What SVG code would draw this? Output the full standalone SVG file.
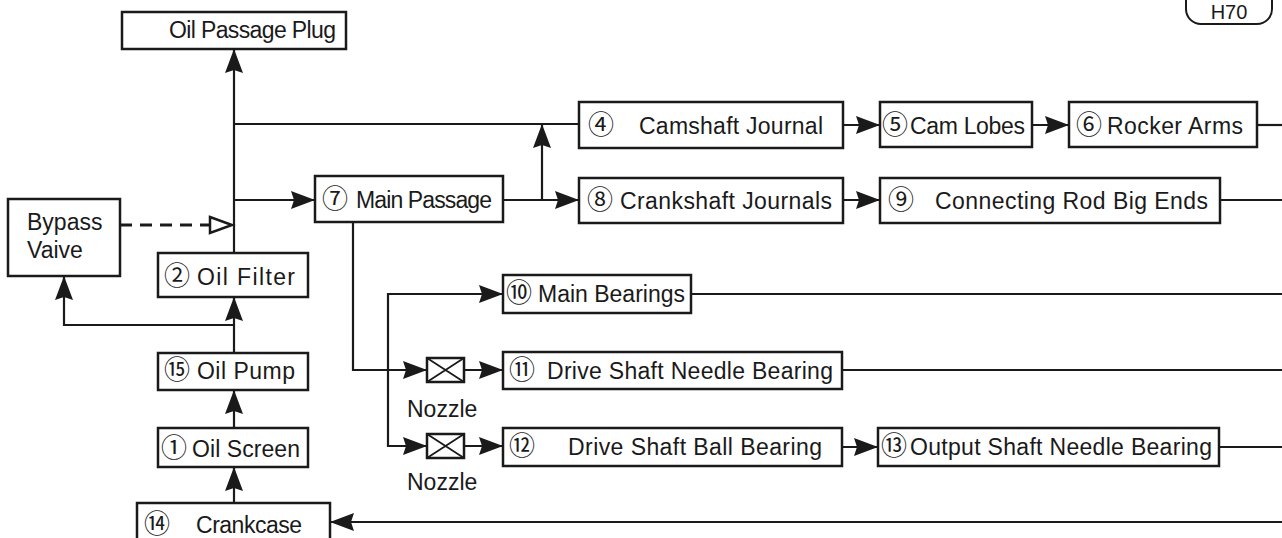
<svg xmlns="http://www.w3.org/2000/svg" width="1282" height="538" viewBox="0 0 1282 538">
<style>
.box{fill:#fff;stroke:#1a1a1a;stroke-width:2.5}
.t{font-family:"Liberation Sans","Noto Sans CJK JP",sans-serif;font-size:23px;fill:#1a1a1a}
.n{font-family:"Noto Sans CJK JP","DejaVu Sans",sans-serif;font-size:26px;fill:#1a1a1a}
.ln{fill:none;stroke:#1a1a1a;stroke-width:2.2}
.ar{marker-end:url(#arr)}
</style>
<defs>
<marker id="arr" viewBox="0 0 24 18" markerWidth="24" markerHeight="18" refX="24" refY="9" orient="auto" markerUnits="userSpaceOnUse">
<path d="M0,0 L24,9 L0,18 L3,9 z" fill="#1a1a1a"/>
</marker>
</defs>
<rect width="1282" height="538" fill="#fff"/>

<g id="connectors">
<path class="ln ar" d="M234,253 V49"/>
<path class="ln" d="M234,124 H579"/>
<path class="ln ar" d="M234,200 H315"/>
<path class="ln ar" d="M503,200 H579"/>
<path class="ln ar" d="M542,200 V124"/>
<path class="ln ar" d="M843,125 H880"/>
<path class="ln ar" d="M1032,125 H1069"/>
<path class="ln" d="M1257,125 H1282"/>
<path class="ln ar" d="M843,200 H880"/>
<path class="ln" d="M1220,200 H1282"/>
<path class="ln ar" d="M353,222 V370 H427"/>
<path class="ln ar" d="M464,370 H503"/>
<path class="ln ar" d="M388,370 V294 H503"/>
<path class="ln ar" d="M388,370 V446 H427"/>
<path class="ln ar" d="M464,446 H503"/>
<path class="ln" d="M691,294 H1282"/>
<path class="ln" d="M842,370 H1282"/>
<path class="ln ar" d="M842,447 H878"/>
<path class="ln" d="M1219,447 H1282"/>
<path class="ln ar" d="M1282,522 H330"/>
<path class="ln ar" d="M234,503 V467"/>
<path class="ln ar" d="M234,428 V390"/>
<path class="ln ar" d="M234,353 V297"/>
<path class="ln ar" d="M234,325 H64 V276"/>
<path d="M120,225 H210" fill="none" stroke="#1a1a1a" stroke-width="3" stroke-dasharray="12,8"/>
<polygon points="210,217 232,225 210,233" fill="#fff" stroke="#1a1a1a" stroke-width="2.5"/>
</g>

<g id="h70">
<rect x="1186" y="-16" width="86" height="40" rx="15" fill="#fff" stroke="#1a1a1a" stroke-width="2"/>
<text class="t" x="1229" y="19" text-anchor="middle" style="font-size:20px">H70</text>
</g>

<g id="oil-passage-plug">
<rect class="box" x="122" y="12" width="224" height="37"/>
<text class="t" x="336" y="38" text-anchor="end" textLength="167">Oil Passage Plug</text>
</g>

<g id="camshaft-journal">
<rect class="box" x="579" y="102" width="264" height="46"/>
<text class="n" x="588" y="134">④</text>
<text class="t" x="639" y="134" textLength="184">Camshaft Journal</text>
</g>

<g id="cam-lobes">
<rect class="box" x="880" y="102" width="152" height="45"/>
<text class="n" x="882" y="134">⑤</text>
<text class="t" x="910" y="134" textLength="115">Cam Lobes</text>
</g>

<g id="rocker-arms">
<rect class="box" x="1069" y="102" width="188" height="45"/>
<text class="n" x="1076" y="134">⑥</text>
<text class="t" x="1107" y="134" textLength="136">Rocker Arms</text>
</g>

<g id="main-passage">
<rect class="box" x="315" y="176" width="188" height="46"/>
<text class="n" x="322" y="208">⑦</text>
<text class="t" x="356" y="208" textLength="136">Main Passage</text>
</g>

<g id="crankshaft-journals">
<rect class="box" x="579" y="178" width="264" height="45"/>
<text class="n" x="587" y="209">⑧</text>
<text class="t" x="620" y="209" textLength="212">Crankshaft Journals</text>
</g>

<g id="connecting-rod">
<rect class="box" x="880" y="178" width="340" height="45"/>
<text class="n" x="888" y="209">⑨</text>
<text class="t" x="935" y="209" textLength="273">Connecting Rod Big Ends</text>
</g>

<g id="bypass-valve">
<rect class="box" x="8" y="199" width="112" height="77"/>
<text class="t" x="27" y="230">Bypass</text>
<text class="t" x="27" y="258">Vaive</text>
</g>

<g id="oil-filter">
<rect class="box" x="158" y="253" width="150" height="44"/>
<text class="n" x="164" y="285">②</text>
<text class="t" x="197" y="285" textLength="98">Oil Filter</text>
</g>

<g id="main-bearings">
<rect class="box" x="503" y="275" width="188" height="38"/>
<text class="n" x="506" y="302">⑩</text>
<text class="t" x="538" y="302" textLength="147">Main Bearings</text>
</g>

<g id="oil-pump">
<rect class="box" x="158" y="353" width="150" height="37"/>
<text class="n" x="164" y="379">⑮</text>
<text class="t" x="197" y="379" textLength="98">Oil Pump</text>
</g>

<g id="nozzle-1">
<rect class="box" x="427" y="358" width="37" height="24"/>
<path d="M427,358 L464,382 M464,358 L427,382" stroke="#1a1a1a" stroke-width="1.8"/>
<text class="t" x="407" y="417">Nozzle</text>
</g>

<g id="drive-shaft-needle-bearing">
<rect class="box" x="503" y="352" width="339" height="37"/>
<text class="n" x="509" y="379">⑪</text>
<text class="t" x="547" y="379" textLength="286">Drive Shaft Needle Bearing</text>
</g>

<g id="oil-screen">
<rect class="box" x="158" y="428" width="150" height="39"/>
<text class="n" x="161" y="457">①</text>
<text class="t" x="192" y="457" textLength="108">Oil Screen</text>
</g>

<g id="nozzle-2">
<rect class="box" x="427" y="434" width="37" height="24"/>
<path d="M427,434 L464,458 M464,434 L427,458" stroke="#1a1a1a" stroke-width="1.8"/>
<text class="t" x="407" y="490">Nozzle</text>
</g>

<g id="drive-shaft-ball-bearing">
<rect class="box" x="503" y="428" width="339" height="38"/>
<text class="n" x="509" y="455">⑫</text>
<text class="t" x="568" y="455" textLength="254">Drive Shaft Ball Bearing</text>
</g>

<g id="output-shaft-needle-bearing">
<rect class="box" x="878" y="428" width="341" height="38"/>
<text class="n" x="881" y="455">⑬</text>
<text class="t" x="910" y="455" textLength="302">Output Shaft Needle Bearing</text>
</g>

<g id="crankcase">
<rect class="box" x="137" y="503" width="193" height="45"/>
<text class="n" x="144" y="533">⑭</text>
<text class="t" x="196" y="533" textLength="106">Crankcase</text>
</g>
</svg>
